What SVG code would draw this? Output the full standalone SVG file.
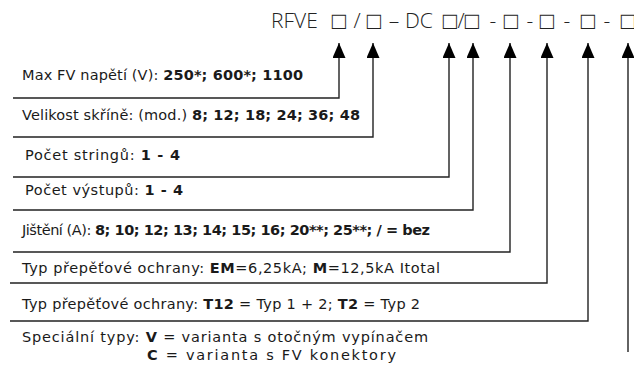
<svg xmlns="http://www.w3.org/2000/svg" width="634" height="368" viewBox="0 0 634 368">
<style>
.lbl{font-family:"DejaVu Sans","Liberation Sans",sans-serif;font-size:14.5px;fill:#1a1a1a}
.b{font-weight:700}
.title{font-family:"Open Sans","Liberation Sans",sans-serif;font-size:21px;fill:#222;font-weight:300}
.sq{font-family:"Liberation Sans","Noto Sans CJK SC",sans-serif;font-size:24px;fill:#222}
.con{fill:none;stroke:#222;stroke-width:1.4}
</style>
<defs>
<marker id="ah" markerUnits="userSpaceOnUse" markerWidth="16" markerHeight="13" viewBox="0 0 16 13" refX="15" refY="6.5" orient="auto">
<path d="M0,0 L15,6.5 L0,13 z" fill="#000"/>
</marker>
</defs>
<g id="title">
<text class="title" y="28"><tspan x="271">RFVE</tspan><tspan x="357" text-anchor="middle">/</tspan><tspan x="394" text-anchor="middle">–</tspan><tspan x="405">DC</tspan><tspan x="461" text-anchor="middle">/</tspan><tspan x="493" text-anchor="middle">-</tspan><tspan x="530" text-anchor="middle">-</tspan><tspan x="567" text-anchor="middle">-</tspan><tspan x="607" text-anchor="middle">-</tspan></text>
<text class="sq" y="29" text-anchor="middle"><tspan x="339">□</tspan><tspan x="374">□</tspan><tspan x="450">□</tspan><tspan x="472">□</tspan><tspan x="511">□</tspan><tspan x="547">□</tspan><tspan x="588">□</tspan><tspan x="628">□</tspan></text>
</g>
<g id="connectors">
<path class="con" marker-end="url(#ah)" d="M13,98 H339 V43"/>
<path class="con" marker-end="url(#ah)" d="M13,137 H373 V43"/>
<path class="con" marker-end="url(#ah)" d="M13,177 H449 V43"/>
<path class="con" marker-end="url(#ah)" d="M13,210 H473 V43"/>
<path class="con" marker-end="url(#ah)" d="M13,252 H510 V43"/>
<path class="con" marker-end="url(#ah)" d="M10,283 H547 V43"/>
<path class="con" marker-end="url(#ah)" d="M10,321 H588 V43"/>
<path class="con" marker-end="url(#ah)" d="M628,352 V43"/>
</g>
<g id="n1"><text class="lbl" x="22" y="80" textLength="281" lengthAdjust="spacing">Max FV napětí (V): <tspan class="b">250*; 600*; 1100</tspan></text></g>
<g id="n2"><text class="lbl" x="22" y="120" textLength="338" lengthAdjust="spacing">Velikost skříně: (mod.) <tspan class="b">8; 12; 18; 24; 36; 48</tspan></text></g>
<g id="n3"><text class="lbl" x="25" y="160" textLength="155" lengthAdjust="spacing">Počet stringů: <tspan class="b">1 - 4</tspan></text></g>
<g id="n4"><text class="lbl" x="25" y="195" textLength="158" lengthAdjust="spacing">Počet výstupů: <tspan class="b">1 - 4</tspan></text></g>
<g id="n5"><text class="lbl" x="22" y="235" textLength="408" lengthAdjust="spacing">Jištění (A): <tspan class="b">8; 10; 12; 13; 14; 15; 16; 20**; 25**; / = bez</tspan></text></g>
<g id="n6"><text class="lbl" x="22" y="273" textLength="418" lengthAdjust="spacing">Typ přepěťové ochrany: <tspan class="b">EM</tspan>=6,25kA; <tspan class="b">M</tspan>=12,5kA Itotal</text></g>
<g id="n7"><text class="lbl" x="22" y="309" textLength="398" lengthAdjust="spacing">Typ přepěťové ochrany: <tspan class="b">T12</tspan> = Typ 1 + 2; <tspan class="b">T2</tspan> = Typ 2</text></g>
<g id="n8"><text class="lbl" x="22" y="342" textLength="406" lengthAdjust="spacing">Speciální typy: <tspan class="b">V</tspan> = varianta s otočným vypínačem</text><text class="lbl" x="147" y="360" textLength="249" lengthAdjust="spacing"><tspan class="b">C</tspan> = varianta s FV konektory</text></g>
</svg>
